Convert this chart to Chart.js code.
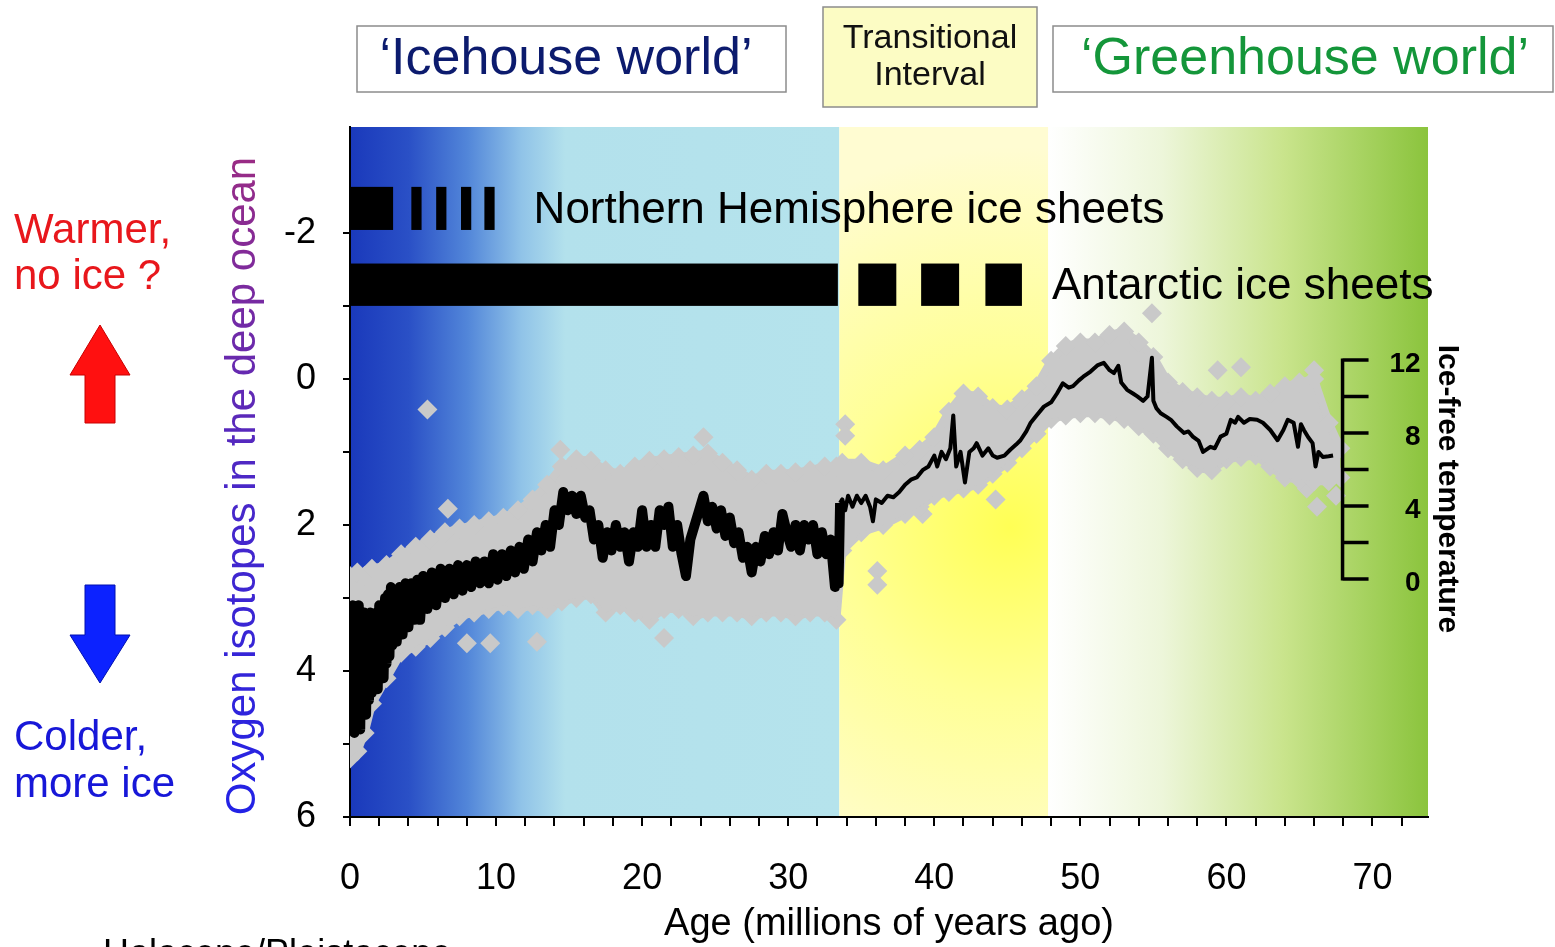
<!DOCTYPE html>
<html>
<head>
<meta charset="utf-8">
<script src="https://cdn.jsdelivr.net/npm/chart.js@4.4.1/dist/chart.umd.min.js"></script>
<style>
  html, body { margin: 0; padding: 0; background: #fff; overflow: hidden; }
  canvas { display: block; }
</style>
</head>
<body>
<canvas id="isotopeChart" width="1555" height="947"></canvas>
<script>
// ages in millions of years ago, values are deep-ocean d18O (per mil)
var lineAge = [
    0.0, 0.1, 0.2, 0.3, 0.4, 0.5, 0.6, 0.7, 0.8, 0.9,
    1.0, 1.1, 1.2, 1.3, 1.4, 1.5, 1.6, 1.7, 1.8, 1.9,
    2.0, 2.1, 2.2, 2.3, 2.4, 2.5, 2.6, 2.7, 2.8, 2.9,
    3.0, 3.2, 3.4, 3.6, 3.8, 4.0, 4.2, 4.4, 4.6, 4.8,
    5.0, 5.3, 5.6, 5.9, 6.2, 6.5, 6.8, 7.1, 7.4, 7.7,
    8.0, 8.3, 8.6, 8.9, 9.2, 9.5, 9.8, 10.1, 10.4, 10.7,
    11.0, 11.3, 11.6, 11.9, 12.2, 12.5, 12.8, 13.1, 13.4, 13.7,
    14.0, 14.3, 14.6, 14.9, 15.2, 15.5, 15.8, 16.1, 16.4, 16.7,
    17.0, 17.3, 17.6, 17.9, 18.2, 18.5, 18.8, 19.1, 19.4, 19.7,
    20.0, 20.3, 20.6, 20.9, 21.2, 21.5, 21.8, 22.1, 22.4, 22.7,
    23.0, 23.3, 23.6, 23.9, 24.2, 24.5, 24.8, 25.1, 25.4, 25.7,
    26.0, 26.3, 26.6, 26.9, 27.2, 27.5, 27.8, 28.1, 28.4, 28.7,
    29.0, 29.3, 29.6, 29.9, 30.2, 30.5, 30.8, 31.1, 31.4, 31.7,
    32.0, 32.3, 32.6, 32.9, 33.2, 33.35, 33.45, 33.55, 33.7, 33.9,
    34.1, 34.4, 34.7, 35.0, 35.3, 35.6, 35.8, 36.0, 36.4, 36.8,
    37.2, 37.6, 38.0, 38.4, 38.8, 39.2, 39.6, 40.0, 40.2, 40.5,
    40.8, 41.1, 41.3, 41.5, 41.8, 42.1, 42.4, 42.7, 42.9, 43.3,
    43.7, 44.0, 44.3, 44.8, 45.2, 45.6, 45.9, 46.3, 46.6, 47.0,
    47.5, 48.0, 48.4, 48.8, 49.2, 49.5, 49.9, 50.2, 50.7, 51.2,
    51.6, 52.0, 52.3, 52.6, 52.8, 53.2, 53.6, 53.9, 54.3, 54.6,
    54.9, 55.0, 55.2, 55.5, 55.9, 56.2, 56.6, 57.1, 57.4, 57.7,
    58.1, 58.4, 58.9, 59.2, 59.6, 60.0, 60.3, 60.6, 60.8, 61.2,
    61.6, 62.1, 62.5, 63.0, 63.5, 63.9, 64.2, 64.6, 64.9, 65.1,
    65.3, 65.6, 65.9, 66.1, 66.3, 66.6, 67.0, 67.3
];
var lineD18O = [
    3.2, 4.8, 3.1, 4.85, 3.2, 4.7, 3.1, 4.8, 3.3, 4.5,
    3.2, 4.6, 3.3, 4.4, 3.2, 4.3, 3.3, 4.2, 3.2, 4.25,
    3.1, 4.0, 3.2, 4.1, 3.0, 3.9, 2.95, 3.8, 2.85, 3.65,
    2.9, 3.6, 2.85, 3.5, 2.8, 3.4, 2.8, 3.3, 2.75, 3.3,
    2.7, 3.15, 2.65, 3.1, 2.6, 3.0, 2.6, 2.95, 2.55, 2.9,
    2.55, 2.85, 2.5, 2.8, 2.5, 2.8, 2.4, 2.75, 2.4, 2.7,
    2.35, 2.65, 2.3, 2.6, 2.2, 2.5, 2.1, 2.35, 2.0, 2.3,
    1.8, 2.0, 1.55, 1.8, 1.6, 1.85, 1.6, 1.9, 1.8, 2.2,
    2.0, 2.45, 2.1, 2.35, 2.0, 2.3, 2.1, 2.5, 2.1, 2.3,
    1.8, 2.3, 2.0, 2.3, 1.8, 2.0, 1.75, 2.3, 2.0, 2.4,
    2.7, 2.2, 2.0, 1.8, 1.6, 1.95, 1.75, 2.05, 1.8, 2.15,
    1.9, 2.25, 2.1, 2.45, 2.3, 2.65, 2.3, 2.5, 2.15, 2.4,
    2.1, 2.35, 1.85, 2.1, 2.3, 2.0, 2.35, 2.0, 2.2, 2.0,
    2.4, 2.1, 2.4, 2.2, 2.85, 2.5, 2.8, 1.7, 1.65, 1.8,
    1.6, 1.75, 1.6, 1.7, 1.6, 1.75, 1.95, 1.65, 1.7, 1.6,
    1.62, 1.55, 1.45, 1.38, 1.35, 1.25, 1.2, 1.05, 1.2, 1.0,
    1.1, 0.95, 0.5, 1.2, 1.0, 1.42, 1.0, 0.95, 0.88, 1.05,
    0.95, 1.05, 1.08, 1.05, 0.97, 0.9, 0.84, 0.72, 0.6, 0.5,
    0.38, 0.32, 0.2, 0.06, 0.12, 0.1, 0.02, -0.03, -0.1, -0.19,
    -0.22, -0.12, -0.08, -0.18, 0.05, 0.15, 0.2, 0.24, 0.3, 0.24,
    -0.29, 0.3, 0.4, 0.47, 0.52, 0.56, 0.65, 0.74, 0.72, 0.79,
    0.85, 1.0, 0.93, 0.95, 0.79, 0.75, 0.56, 0.6, 0.52, 0.6,
    0.55, 0.56, 0.6, 0.7, 0.84, 0.7, 0.56, 0.6, 0.93, 0.62,
    0.7, 0.8, 0.88, 1.2, 1.0, 1.07, 1.06, 1.05
];

// grey cloud of individual measurements: upper and lower edge
var bandAge = [
    0, 0.5, 1, 1.5, 2.5, 3.5, 4.5, 5.5, 6.5, 7.5,
    8.5, 9.5, 10.5, 11.5, 12.5, 13.5, 14.5, 15.5, 16.5, 17.5,
    18.5, 19.5, 20.5, 21.5, 22.5, 23.5, 24.5, 25.5, 26.5, 27.5,
    28.5, 29.5, 30.5, 31.5, 32.5, 33.3, 33.7, 35, 36.5, 38,
    39, 40, 41, 42, 43, 44, 45, 46, 47, 48,
    49, 50, 51, 52, 53, 54, 55, 56, 57, 58,
    59, 60, 61, 62, 63, 64, 65, 66, 67, 67.8
];
var bandUpper = [
    2.7, 2.65, 2.7, 2.6, 2.55, 2.4, 2.3, 2.2, 2.1, 2.05,
    2.0, 1.95, 1.9, 1.8, 1.65, 1.45, 1.2, 1.1, 1.12, 1.25,
    1.3, 1.2, 1.12, 1.1, 1.07, 1.05, 1.02, 1.15, 1.25, 1.38,
    1.3, 1.3, 1.28, 1.25, 1.2, 1.2, 1.15, 1.15, 1.25, 1.05,
    0.97, 0.8, 0.45, 0.2, 0.24, 0.4, 0.42, 0.28, 0.1, -0.25,
    -0.45, -0.5, -0.5, -0.6, -0.65, -0.5, -0.3, 0.05, 0.18, 0.25,
    0.3, 0.3, 0.25, 0.3, 0.2, 0.1, 0.05, 0.0, 0.6, 0.95
];
var bandLower = [
    5.2, 5.1, 4.85, 4.45, 4.1, 3.75, 3.67, 3.55, 3.4, 3.25,
    3.2, 3.15, 3.1, 3.15, 3.1, 3.15, 3.05, 3.0, 2.95, 3.2,
    3.1, 3.2, 3.3, 3.15, 3.15, 3.25, 3.2, 3.2, 3.2, 3.25,
    3.2, 3.2, 3.25, 3.2, 3.2, 3.3, 2.35, 2.1, 2.0, 1.85,
    1.75, 1.6, 1.55, 1.5, 1.45, 1.3, 1.15, 0.95, 0.75, 0.55,
    0.5, 0.47, 0.47, 0.5, 0.55, 0.65, 0.75, 0.95, 1.1, 1.22,
    1.25, 1.1, 1.07, 1.05, 1.2, 1.35, 1.38, 1.4, 1.4, 1.35
];
var outlierAge = [5.3, 6.7, 8.0, 9.6, 12.8, 14.4, 21.5, 24.2, 33.9, 33.9, 36.1, 36.1, 39.2, 44.2, 54.9, 59.4, 61.0, 66.0, 65.5, 66.2, 67.5];
var outlierD18O = [0.42, 1.78, 3.62, 3.62, 3.6, 0.97, 3.55, 0.8, 0.62, 0.78, 2.63, 2.82, 1.85, 1.65, -0.9, -0.12, -0.16, -0.12, 1.5, 1.75, 1.6];

// climate states: icehouse | transitional | greenhouse
var regionEdges = [0, 33.5, 47.8, 73.8];

// ice sheet bars (age spans) and their vertical extent in d18O units
var nhIceSpans = [[0, 2.95], [4.2, 4.9], [5.9, 6.6], [7.6, 8.3], [9.2, 9.9]];
var nhIceRange = [-2.63, -2.04];
var antIceSpans = [[0, 33.4], [34.8, 37.4], [39.1, 41.7], [43.5, 46.0]];
var antIceRange = [-1.58, -1.0];

var xTickLabels = [0, 10, 20, 30, 40, 50, 60, 70];
var yTickLabels = [-2, 0, 2, 4, 6];
var tempTicks = [0, 2, 4, 6, 8, 10, 12];
var tempTickLabels = [0, 4, 8, 12];
var tempAxisAge = 67.95;

function tempToD18O(t) { return 2.74 - t / 4; }

function zip(xs, ys) {
    var out = [];
    for (var i = 0; i < xs.length; i++) out.push({ x: xs[i], y: ys[i] });
    return out;
}

var FONT = "'Liberation Sans', Arial, sans-serif";
var GREY = '#c9c9c9';

function drawText(ctx, str, x, y, size, color, align, bold) {
    ctx.font = (bold ? 'bold ' : '') + size + 'px ' + FONT;
    ctx.fillStyle = color;
    ctx.textAlign = align || 'left';
    ctx.textBaseline = 'middle';
    ctx.fillText(str, x, y);
}

function poly(ctx, pts, fill, stroke) {
    ctx.beginPath();
    ctx.moveTo(pts[0][0], pts[0][1]);
    for (var i = 1; i < pts.length; i++) ctx.lineTo(pts[i][0], pts[i][1]);
    ctx.closePath();
    ctx.fillStyle = fill;
    ctx.fill();
    if (stroke) { ctx.strokeStyle = stroke; ctx.lineWidth = 1; ctx.stroke(); }
}

var decorPlugin = {
    id: 'decor',
    beforeDraw: function (chart) {
        var ctx = chart.ctx, a = chart.chartArea;
        var xs = chart.scales.x;
        var px = regionEdges.map(function (v) { return xs.getPixelForValue(v); });
        ctx.save();
        ctx.fillStyle = '#fff';
        ctx.fillRect(0, 0, chart.width, chart.height);

        // icehouse background
        var g = ctx.createLinearGradient(px[0], 0, px[1], 0);
        g.addColorStop(0, '#1a39bb');
        g.addColorStop(0.12, '#2a50c6');
        g.addColorStop(0.24, '#5286d9');
        g.addColorStop(0.35, '#90c3e8');
        g.addColorStop(0.44, '#b3e1ec');
        g.addColorStop(1, '#b5e3ec');
        ctx.fillStyle = g;
        ctx.fillRect(px[0], a.top, px[1] - px[0], a.bottom - a.top);

        // transitional background
        var cx = px[1] + 0.82 * (px[2] - px[1]);
        var cy = a.top + 0.58 * (a.bottom - a.top);
        var r = ctx.createRadialGradient(cx, cy, 0, cx, cy, 380);
        r.addColorStop(0, '#ffff55');
        r.addColorStop(0.45, '#ffff96');
        r.addColorStop(1, '#fffcd2');
        ctx.fillStyle = r;
        ctx.fillRect(px[1], a.top, px[2] - px[1], a.bottom - a.top);

        // greenhouse background
        var gg = ctx.createLinearGradient(px[2], 0, px[3], 0);
        gg.addColorStop(0, '#ffffff');
        gg.addColorStop(0.3, '#edf6da');
        gg.addColorStop(0.62, '#c9e48c');
        gg.addColorStop(1, '#8bc43d');
        ctx.fillStyle = gg;
        ctx.fillRect(px[2], a.top, px[3] - px[2], a.bottom - a.top);

        // header boxes
        ctx.lineWidth = 1.5;
        ctx.strokeStyle = '#8c8c8c';
        ctx.strokeRect(357, 26, 429, 66);
        drawText(ctx, '\u2018Icehouse world\u2019', 566, 60, 52, '#0c1b6e', 'center');

        ctx.fillStyle = '#fcfcc4';
        ctx.fillRect(823, 7, 214, 100);
        ctx.strokeRect(823, 7, 214, 100);
        drawText(ctx, 'Transitional', 930, 39, 34, '#111', 'center');
        drawText(ctx, 'Interval', 930, 76, 34, '#111', 'center');

        ctx.strokeRect(1053, 26, 500, 66);
        drawText(ctx, '\u2018Greenhouse world\u2019', 1305, 60, 52, '#14963a', 'center');

        // warmer / colder cues
        drawText(ctx, 'Warmer,', 14, 231, 42, '#e8171c', 'left');
        drawText(ctx, 'no ice ?', 14, 277, 42, '#e8171c', 'left');
        poly(ctx, [[100, 325], [130, 375], [115, 375], [115, 423], [85, 423], [85, 375], [70, 375]], '#ff1010', '#c80000');
        poly(ctx, [[85, 585], [115, 585], [115, 635], [130, 635], [100, 683], [70, 635], [85, 635]], '#0c22ff', '#0010b0');
        drawText(ctx, 'Colder,', 14, 738, 42, '#1717d8', 'left');
        drawText(ctx, 'more ice', 14, 785, 42, '#1717d8', 'left');

        // y axis title with blue-to-purple tint
        ctx.save();
        ctx.translate(243, 486);
        ctx.rotate(-Math.PI / 2);
        var tg = ctx.createLinearGradient(-330, 0, 330, 0);
        tg.addColorStop(0, '#2222e6');
        tg.addColorStop(0.5, '#4a28c8');
        tg.addColorStop(1, '#9a2c84');
        drawText(ctx, 'Oxygen isotopes in the deep ocean', 0, 0, 42, tg, 'center');
        ctx.restore();

        // cut-off footnote at the bottom
        ctx.font = '36px ' + FONT;
        ctx.fillStyle = '#000';
        ctx.textAlign = 'left';
        ctx.textBaseline = 'alphabetic';
        ctx.fillText('Holocene/Pleistocene', 103, 965);
        ctx.restore();
    },
    afterDatasetsDraw: function (chart) {
        var ctx = chart.ctx, xs = chart.scales.x, ys = chart.scales.y;
        ctx.save();
        ctx.fillStyle = '#000';

        function bars(spans, range) {
            var y0 = ys.getPixelForValue(range[0]), y1 = ys.getPixelForValue(range[1]);
            spans.forEach(function (s) {
                var x0 = xs.getPixelForValue(s[0]), x1 = xs.getPixelForValue(s[1]);
                ctx.fillRect(x0, y0, x1 - x0, y1 - y0);
            });
            return { x: xs.getPixelForValue(spans[spans.length - 1][1]), y: (y0 + y1) / 2 };
        }
        var nh = bars(nhIceSpans, nhIceRange);
        var ant = bars(antIceSpans, antIceRange);
        drawText(ctx, 'Northern Hemisphere ice sheets', nh.x + 39, nh.y + 2, 44, '#000', 'left');
        drawText(ctx, 'Antarctic ice sheets', ant.x + 30, ant.y + 2, 44, '#000', 'left');

        // ice-free temperature scale
        var ax = xs.getPixelForValue(tempAxisAge);
        var yTop = ys.getPixelForValue(tempToD18O(tempTicks[tempTicks.length - 1]));
        var yBot = ys.getPixelForValue(tempToD18O(tempTicks[0]));
        ctx.strokeStyle = '#000';
        ctx.lineWidth = 3.5;
        ctx.beginPath();
        ctx.moveTo(ax, yTop - 1.5);
        ctx.lineTo(ax, yBot + 1.5);
        tempTicks.forEach(function (t) {
            var y = ys.getPixelForValue(tempToD18O(t));
            ctx.moveTo(ax, y);
            ctx.lineTo(ax + 26, y);
        });
        ctx.stroke();
        tempTickLabels.forEach(function (t) {
            var y = ys.getPixelForValue(tempToD18O(t));
            drawText(ctx, String(t), ax + 78, y + 4, 28, '#000', 'right', true);
        });
        ctx.save();
        ctx.translate(1447, 489);
        ctx.rotate(Math.PI / 2);
        drawText(ctx, 'Ice-free temperature', 0, 0, 30, '#000', 'center', true);
        ctx.restore();
        ctx.restore();
    }
};

var chartElem = document.getElementById('isotopeChart');
var isotopeChart = new Chart(chartElem.getContext('2d'), {
    type: 'scatter',
    data: {
        datasets: [{
            label: 'Smoothed record',
            data: zip(lineAge, lineD18O),
            showLine: true,
            borderColor: '#000',
            borderWidth: 4,
            segment: {
                // the icehouse part is a dense, noisy record and reads as a thick band
                borderWidth: function (c) { return c.p0.parsed.x < regionEdges[1] ? 10 : 4; }
            },
            borderJoinStyle: 'round',
            pointRadius: 0,
            tension: 0
        },
        {
            label: 'Measurements (upper edge)',
            data: zip(bandAge, bandUpper),
            showLine: true,
            borderColor: GREY,
            borderWidth: 8,
            pointStyle: 'rectRot',
            pointRadius: 10,
            pointBorderWidth: 0,
            pointBackgroundColor: GREY,
            backgroundColor: GREY,
            fill: '+1'
        },
        {
            label: 'Measurements (lower edge)',
            data: zip(bandAge, bandLower),
            showLine: true,
            borderColor: GREY,
            borderWidth: 8,
            pointStyle: 'rectRot',
            pointRadius: 10,
            pointBorderWidth: 0,
            pointBackgroundColor: GREY,
            fill: false
        },
        {
            label: 'Measurements (scattered)',
            data: zip(outlierAge, outlierD18O),
            showLine: false,
            pointStyle: 'rectRot',
            pointRadius: 10,
            pointBorderWidth: 0,
            pointBackgroundColor: GREY
        }]
    },
    options: {
        responsive: false,
        animation: false,
        layout: { padding: { left: 0, right: 127, top: 127, bottom: 0 } },
        plugins: {
            legend: { display: false },
            tooltip: { enabled: false }
        },
        scales: {
            x: {
                type: 'linear',
                min: regionEdges[0],
                max: regionEdges[regionEdges.length - 1],
                border: { color: '#000', width: 2 },
                grid: { drawOnChartArea: false, color: '#000', lineWidth: 2, tickLength: 9 },
                afterBuildTicks: function (scale) {
                    var t = [];
                    for (var v = 0; v <= 72; v += 2) t.push({ value: v });
                    scale.ticks = t;
                },
                afterFit: function (scale) { scale.height = 130; },
                ticks: {
                    autoSkip: false,
                    maxRotation: 0,
                    padding: 31,
                    color: '#000',
                    font: { family: FONT, size: 36 },
                    callback: function (value) {
                        return xTickLabels.indexOf(value) >= 0 ? String(value) : '';
                    }
                },
                title: {
                    display: true,
                    text: 'Age (millions of years ago)',
                    color: '#000',
                    font: { family: FONT, size: 38 },
                    padding: { top: 0, bottom: 0 }
                }
            },
            y: {
                type: 'linear',
                reverse: true,
                min: -3.45,
                max: 6,
                border: { color: '#000', width: 2 },
                grid: { drawOnChartArea: false, color: '#000', lineWidth: 2, tickLength: 7 },
                afterBuildTicks: function (scale) {
                    var t = [];
                    for (var v = -2; v <= 6; v += 1) t.push({ value: v });
                    scale.ticks = t;
                },
                afterFit: function (scale) { scale.width = 350; },
                ticks: {
                    autoSkip: false,
                    padding: 27,
                    color: '#000',
                    font: { family: FONT, size: 36 },
                    callback: function (value) {
                        return yTickLabels.indexOf(value) >= 0 ? String(value) : '';
                    }
                }
            }
        }
    },
    plugins: [decorPlugin]
});
</script>
</body>
</html>
